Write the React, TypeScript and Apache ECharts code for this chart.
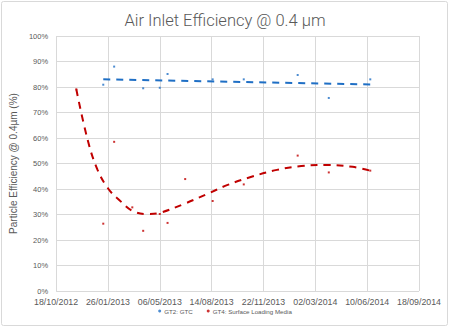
import React, { useEffect, useRef } from "react";
import * as echarts from "echarts";

const xTickStart = "2012-10-18";
const xTickEnd = "2014-09-18";
const xTickDays = 100;

const gt2Dates = ["2013-01-17", "2013-02-07", "2013-04-04", "2013-05-06", "2013-05-21", "2013-08-16", "2013-10-15", "2014-01-27", "2014-03-28", "2014-06-16"];
const gt2Values = [80.9, 88.0, 79.5, 79.7, 85.1, 83.0, 83.0, 84.7, 75.7, 83.0];

const gt4Dates = ["2012-11-26", "2013-01-17", "2013-02-07", "2013-03-14", "2013-04-04", "2013-05-06", "2013-05-21", "2013-06-24", "2013-08-16", "2013-10-15", "2014-01-27", "2014-03-28", "2014-06-16"];
const gt4Values = [79.1, 26.4, 58.5, 32.8, 23.6, 30.2, 26.7, 43.9, 35.3, 41.8, 53.1, 46.5, 47.2];

const gt2TrendDates = ["2013-01-17", "2014-06-16"];
const gt2TrendValues = [83.0, 81.0];

const gt4TrendDates = ["2012-11-26", "2012-12-18", "2013-01-06", "2013-01-26", "2013-02-13", "2013-03-20", "2013-04-15", "2013-05-07", "2013-06-20", "2013-08-04", "2013-09-14", "2013-10-30", "2013-12-18", "2014-02-03", "2014-03-25", "2014-05-13", "2014-06-16"];
const gt4TrendValues = [79.1, 59.2, 47.5, 40.3, 36.4, 30.9, 30.2, 30.7, 34.0, 37.9, 41.6, 44.8, 47.5, 49.0, 49.4, 48.7, 47.2];

const seriesNames = ["GT2: GTC", "GT4: Surface Loading Media"];
const titleText = "Air Inlet Efficiency @ 0.4 µm";
const yAxisName = "Particle Efficiency @ 0.4µm (%)";

const ts = (s: string) => {
  const [y, m, d] = s.split("-").map(Number);
  return Date.UTC(y, m - 1, d);
};
const pairs = (dates: string[], vals: number[]) => dates.map((d, i) => [ts(d), vals[i]]);
const pad = (n: number) => (n < 10 ? "0" + n : "" + n);
const fmtDate = (v: number) => {
  const d = new Date(v);
  return pad(d.getUTCDate()) + "/" + pad(d.getUTCMonth() + 1) + "/" + d.getUTCFullYear();
};

const BLUE = "#1f6fc5";
const RED = "#c00000";
const GRID = "#d9d9d9";
const TEXT = "#595959";

export default function App() {
  const ref = useRef<HTMLDivElement>(null);
  useEffect(() => {
    if (!ref.current) return;
    const chart = echarts.init(ref.current, undefined, { renderer: "svg" });
    chart.setOption({
      animation: false,
      backgroundColor: "#ffffff",
      title: {
        text: titleText,
        left: "center",
        top: 7,
        textStyle: { fontFamily: "Roboto", fontSize: 16.5, fontWeight: 300, color: TEXT },
      },
      graphic: [
        {
          type: "rect",
          shape: { x: 1.5, y: 1.5, width: 446, height: 324, r: 2 },
          style: { fill: "none", stroke: GRID, lineWidth: 1 },
          silent: true,
          z: -1,
        },
      ],
      legend: {
        data: seriesNames,
        bottom: 9,
        left: "center",
        icon: "circle",
        itemWidth: 3,
        itemHeight: 3,
        itemGap: 14,
        textStyle: { fontFamily: "Liberation Sans", fontSize: 6.2, color: TEXT, padding: [0, 0, 0, -2] },
      },
      grid: { left: 51, right: 31, top: 36, bottom: 37, containLabel: false },
      xAxis: {
        type: "value",
        min: ts(xTickStart),
        max: ts(xTickEnd),
        interval: xTickDays * 86400000,
        axisLine: { show: false },
        axisTick: { show: false },
        splitLine: { show: true, lineStyle: { color: GRID, width: 1 } },
        axisLabel: {
          formatter: (v: number) => fmtDate(v),
          fontFamily: "Liberation Sans",
          fontSize: 8.8,
          color: TEXT,
          margin: 6,
          showMinLabel: true,
          showMaxLabel: true,
        },
      },
      yAxis: {
        type: "value",
        min: 0,
        max: 100,
        interval: 10,
        name: yAxisName,
        nameLocation: "middle",
        nameGap: 28,
        nameTextStyle: { fontFamily: "Liberation Sans", fontSize: 10, color: TEXT },
        axisLine: { show: false },
        axisTick: { show: false },
        splitLine: { show: true, lineStyle: { color: GRID, width: 1 } },
        axisLabel: { formatter: "{value}%", fontFamily: "Liberation Sans", fontSize: 7.5, color: TEXT, margin: 8 },
      },
      series: [
        {
          name: seriesNames[0],
          type: "scatter",
          symbol: "rect",
          symbolSize: 2,
          itemStyle: { color: BLUE },
          data: pairs(gt2Dates, gt2Values),
          z: 3,
        },
        {
          name: seriesNames[1],
          type: "scatter",
          symbol: "rect",
          symbolSize: 2,
          itemStyle: { color: RED },
          data: pairs(gt4Dates, gt4Values),
          z: 3,
        },
        {
          name: "GT2 trend",
          type: "line",
          showSymbol: false,
          data: pairs(gt2TrendDates, gt2TrendValues),
          lineStyle: { color: BLUE, width: 2, type: [7, 6] },
          itemStyle: { color: BLUE },
          silent: true,
          z: 2,
        },
        {
          name: "GT4 trend",
          type: "line",
          showSymbol: false,
          smooth: 0.4,
          data: pairs(gt4TrendDates, gt4TrendValues),
          lineStyle: { color: RED, width: 2, type: [7, 6] },
          itemStyle: { color: RED },
          silent: true,
          z: 2,
        },
      ],
    });
    return () => chart.dispose();
  }, []);
  return <div ref={ref} style={{ position: "absolute", left: 0, top: 0, width: 450, height: 328 }} />;
}
